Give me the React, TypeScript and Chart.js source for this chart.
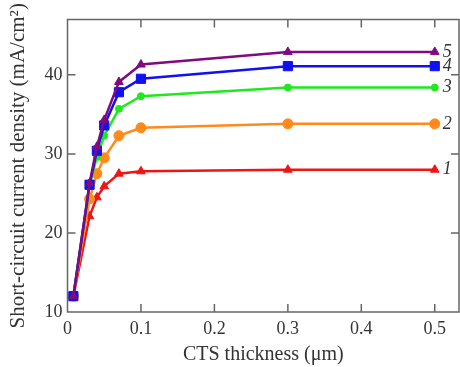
import React, { useEffect, useRef } from "react";
import { Chart, registerables } from "chart.js";

Chart.register(...registerables);

const thickness = [0.008, 0.03, 0.04, 0.05, 0.07, 0.1, 0.3, 0.5];
const curve1 = [12, 22.1, 24.5, 25.9, 27.5, 27.8, 28.0, 28.0];
const curve2 = [12, 24.3, 27.5, 29.5, 32.3, 33.3, 33.8, 33.8];
const curve3 = [12, 26.0, 29.6, 32.3, 35.7, 37.3, 38.4, 38.4];
const curve4 = [12, 26.1, 30.4, 33.6, 37.8, 39.5, 41.1, 41.1];
const curve5 = [12, 26.3, 30.9, 34.3, 39.1, 41.3, 42.9, 42.9];
const curveLabels = ["5", "4", "3", "2", "1"];
const xTicks = [0, 0.1, 0.2, 0.3, 0.4, 0.5];
const yTicks = [10, 20, 30, 40];

const SERIF = "'Liberation Serif', 'DejaVu Serif', serif";

function pts(ys: number[]) {
  return ys.map((y, i) => ({ x: thickness[i], y }));
}

const framePlugin = {
  id: "frame",
  afterDraw(chart: any) {
    const { ctx, chartArea } = chart;
    const { left, right, top, bottom } = chartArea;
    const xs = chart.scales.x;
    const ys = chart.scales.y;
    ctx.save();
    ctx.strokeStyle = "#666";
    ctx.lineWidth = 1.5;
    ctx.strokeRect(left, top, right - left, bottom - top);
    ctx.beginPath();
    const L = 8;
    xTicks.forEach((v) => {
      if (v === 0) return;
      const px = xs.getPixelForValue(v);
      ctx.moveTo(px, bottom);
      ctx.lineTo(px, bottom - L);
      ctx.moveTo(px, top);
      ctx.lineTo(px, top + L);
    });
    yTicks.forEach((v) => {
      if (v === 10) return;
      const py = ys.getPixelForValue(v);
      ctx.moveTo(left, py);
      ctx.lineTo(left + L, py);
      ctx.moveTo(right, py);
      ctx.lineTo(right - L, py);
    });
    ctx.stroke();
    ctx.font = "italic 18px " + SERIF;
    ctx.fillStyle = "#333";
    ctx.textAlign = "left";
    ctx.textBaseline = "middle";
    chart.data.datasets.forEach((ds: any, i: number) => {
      const last = ds.data[ds.data.length - 1];
      const px = xs.getPixelForValue(last.x);
      const py = ys.getPixelForValue(last.y);
      ctx.fillText(curveLabels[i], px + 8, py);
    });
    ctx.restore();
  },
};

export default function App() {
  const ref = useRef<HTMLCanvasElement>(null);
  useEffect(() => {
    const mk = (data: number[], color: string, style: string, r: number) => ({
      data: pts(data),
      borderColor: color,
      backgroundColor: color,
      borderWidth: 2.5,
      pointStyle: style,
      pointRadius: r,
      pointBorderWidth: 1,
      pointBackgroundColor: color,
      pointBorderColor: color,
      tension: 0,
      clip: false,
    });
    const chart = new Chart(ref.current!, {
      type: "line",
      data: {
        datasets: [
          mk(curve5, "#800a80", "triangle", 5),
          mk(curve4, "#1010f0", "rect", 6.5),
          mk(curve3, "#1ee81e", "circle", 3.5),
          mk(curve2, "#ff8a1c", "circle", 5),
          mk(curve1, "#f01414", "triangle", 5),
        ],
      },
      options: {
        animation: false,
        responsive: false,
        maintainAspectRatio: false,
        layout: { autoPadding: false, padding: { top: 19.5, right: 1, left: 0, bottom: 0 } },
        plugins: {
          legend: { display: false },
          tooltip: { enabled: false },
        },
        scales: {
          x: {
            type: "linear",
            min: 0,
            max: 0.533,
            afterBuildTicks: (s: any) => {
              s.ticks = xTicks.map((v) => ({ value: v }));
            },
            afterFit: (s: any) => {
              s.height = 55;
              s.paddingLeft = 0;
              s.paddingRight = 0;
            },
            grid: { display: false, drawTicks: false },
            border: { display: false },
            ticks: {
              padding: 6,
              color: "#333",
              font: { family: SERIF, size: 18 },
              callback: (v: any) => String(v),
            },
            title: {
              display: true,
              text: "CTS thickness (μm)",
              color: "#333",
              font: { family: SERIF, size: 20 },
              padding: { top: 2, bottom: 0 },
            },
          },
          y: {
            type: "linear",
            min: 10,
            max: 47,
            afterBuildTicks: (s: any) => {
              s.ticks = yTicks.map((v) => ({ value: v }));
            },
            afterFit: (s: any) => {
              s.width = 67.5;
              s.paddingTop = 0;
              s.paddingBottom = 0;
            },
            grid: { display: false, drawTicks: false },
            border: { display: false },
            ticks: {
              padding: 5,
              color: "#333",
              font: { family: SERIF, size: 18 },
            },
            title: {
              display: true,
              text: "Short-circuit current density (mA/cm²)",
              color: "#333",
              font: { family: SERIF, size: 21 },
              padding: { top: 6, bottom: 2 },
            },
          },
        },
      },
      plugins: [framePlugin],
    } as any);
    return () => chart.destroy();
  }, []);
  return (
    <div style={{ position: "absolute", left: 0, top: 0, width: 460, height: 367, background: "#fff" }}>
      <canvas ref={ref} width={460} height={367} style={{ width: 460, height: 367 }} />
    </div>
  );
}
